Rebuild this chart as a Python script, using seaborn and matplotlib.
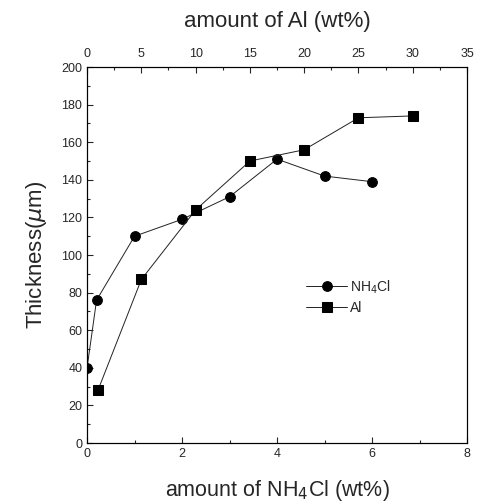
import seaborn as sns
import matplotlib.pyplot as plt
import pandas as pd
from matplotlib.ticker import MultipleLocator

sns.set_style("ticks")
plt.rcParams['font.family'] = ['Liberation Sans', 'DejaVu Sans']

# NH4Cl series (bottom axis)
nh4cl_x = [0, 0.2, 1.0, 2.0, 3.0, 4.0, 5.0, 6.0]
nh4cl_y = [40, 76, 110, 119, 131, 151, 142, 139]
# Al series (top axis)
al_x = [1, 5, 10, 15, 20, 25, 30]
al_y = [28, 87, 124, 150, 156, 173, 174]

df1 = pd.DataFrame({"x": nh4cl_x, "y": nh4cl_y})
df2 = pd.DataFrame({"x": al_x, "y": al_y})

fig = plt.figure(figsize=(4.81, 5.04), dpi=100)
ax = fig.add_axes([0.181, 0.121, 0.79, 0.746])
ax2 = ax.twiny()

sns.lineplot(data=df1, x="x", y="y", ax=ax, sort=False, color="#222222", lw=0.7,
             marker="o", markersize=7, markeredgecolor="black", markerfacecolor="black",
             label="NH$_4$Cl", legend=False)
sns.lineplot(data=df2, x="x", y="y", ax=ax2, sort=False, color="#222222", lw=0.7,
             marker="s", markersize=7, markeredgecolor="black", markerfacecolor="black",
             label="Al", legend=False)

ax.set_xlim(0, 8)
ax.set_ylim(0, 200)
ax2.set_xlim(0, 35)
ax.xaxis.set_major_locator(MultipleLocator(2))
ax.xaxis.set_minor_locator(MultipleLocator(1))
ax.yaxis.set_major_locator(MultipleLocator(20))
ax.yaxis.set_minor_locator(MultipleLocator(10))
ax2.xaxis.set_major_locator(MultipleLocator(5))
ax2.xaxis.set_minor_locator(MultipleLocator(2.5))

for a in (ax, ax2):
    a.tick_params(which="both", direction="in", labelsize=9, width=0.8)
    a.tick_params(which="major", length=4)
    a.tick_params(which="minor", length=2)
    for s in a.spines.values():
        s.set_linewidth(0.8)
        s.set_color("black")
ax2.tick_params(axis="x", pad=5)

ax.set_xlabel("amount of NH$_4$Cl (wt%)", fontsize=15.5, labelpad=13)
ax.set_ylabel("Thickness($\\mu$m)", fontsize=16, labelpad=9)
ax2.set_xlabel("amount of Al (wt%)", fontsize=16, labelpad=15)

h1, l1 = ax.get_legend_handles_labels()
h2, l2 = ax2.get_legend_handles_labels()
ax2.legend(h1 + h2, l1 + l2, frameon=False, fontsize=10, loc="center left",
           bbox_to_anchor=(0.55, 0.39), handlelength=3.0, handletextpad=0.2,
           labelspacing=0.35, borderpad=0.2)

fig.savefig("out.png", dpi=100)
